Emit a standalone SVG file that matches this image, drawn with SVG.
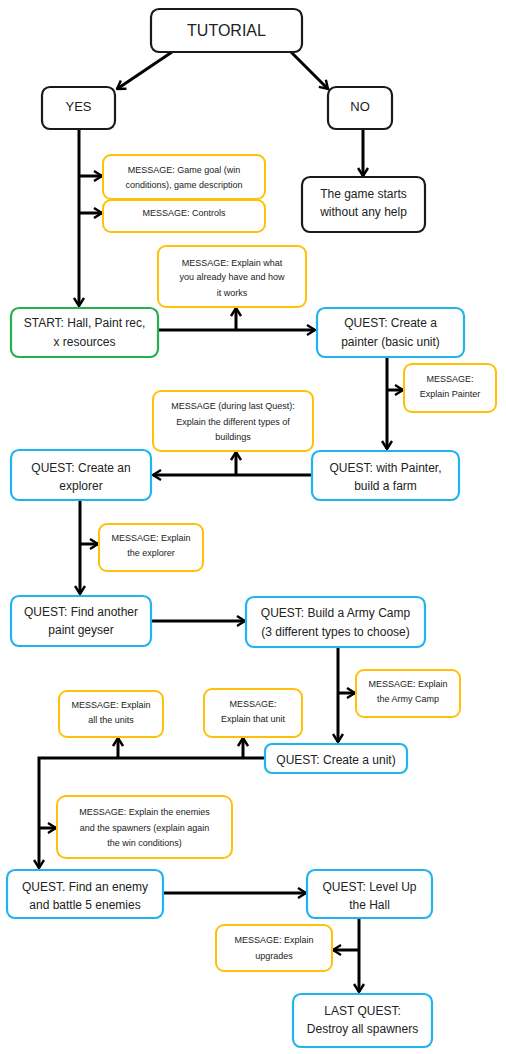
<svg xmlns="http://www.w3.org/2000/svg" width="506" height="1054" viewBox="0 0 506 1054">
<defs>
<marker id="ah" viewBox="0 0 10 12" refX="9" refY="6" markerWidth="10" markerHeight="12" markerUnits="userSpaceOnUse" orient="auto">
<path d="M1,1 L9,6 L1,11" fill="none" stroke="#000" stroke-width="2.4" stroke-linejoin="miter"/>
</marker>
<style>
.b{fill:#fff;stroke:#1a1a1a;stroke-width:2.2}
.q{fill:#fff;stroke:#1fb4ee;stroke-width:2.2}
.s{fill:#fff;stroke:#22b14c;stroke-width:2.2}
.m{fill:#fff;stroke:#ffc107;stroke-width:2}
text{font-family:"Liberation Sans",Arial,sans-serif;fill:#222;text-anchor:middle}
.t12{font-size:12px}
.t9{font-size:9px}
.c line,.c polyline{stroke:#000;stroke-width:3;fill:none}
</style>
</defs>
<g id="connectors" class="c">
<line x1="172" y1="52" x2="117" y2="89" marker-end="url(#ah)"/>
<line x1="291" y1="52" x2="328" y2="89" marker-end="url(#ah)"/>
<line x1="363" y1="129" x2="363" y2="176" marker-end="url(#ah)"/>
<line x1="79" y1="129" x2="79" y2="306" marker-end="url(#ah)"/>
<line x1="79" y1="176" x2="102" y2="176" marker-end="url(#ah)"/>
<line x1="79" y1="213" x2="102" y2="213" marker-end="url(#ah)"/>
<line x1="158" y1="330" x2="315" y2="330" marker-end="url(#ah)"/>
<line x1="236" y1="330" x2="236" y2="308" marker-end="url(#ah)"/>
<line x1="387" y1="357" x2="387" y2="449" marker-end="url(#ah)"/>
<line x1="387" y1="390" x2="403" y2="390" marker-end="url(#ah)"/>
<line x1="312" y1="475" x2="153" y2="475" marker-end="url(#ah)"/>
<line x1="236" y1="475" x2="236" y2="452" marker-end="url(#ah)"/>
<line x1="80" y1="500" x2="80" y2="594" marker-end="url(#ah)"/>
<line x1="80" y1="544" x2="98" y2="544" marker-end="url(#ah)"/>
<line x1="151" y1="621" x2="245" y2="621" marker-end="url(#ah)"/>
<line x1="338" y1="647" x2="338" y2="742" marker-end="url(#ah)"/>
<line x1="338" y1="693" x2="355" y2="693" marker-end="url(#ah)"/>
<polyline points="265,758 39,758 39,868" marker-end="url(#ah)"/>
<line x1="118" y1="758" x2="118" y2="738" marker-end="url(#ah)"/>
<line x1="243" y1="758" x2="243" y2="738" marker-end="url(#ah)"/>
<line x1="39" y1="828" x2="56" y2="828" marker-end="url(#ah)"/>
<line x1="163" y1="893" x2="306" y2="893" marker-end="url(#ah)"/>
<line x1="359" y1="918" x2="359" y2="992" marker-end="url(#ah)"/>
<line x1="359" y1="950" x2="333" y2="950" marker-end="url(#ah)"/>
</g>
<g id="tutorial"><rect class="b" x="151" y="9" width="151" height="43" rx="8"/><text x="226.5" y="36" style="font-size:16px">TUTORIAL</text></g>
<g id="yes"><rect class="b" x="42" y="87" width="73" height="42" rx="8"/><text x="78.5" y="111" style="font-size:13px">YES</text></g>
<g id="no"><rect class="b" x="328" y="87" width="64" height="42" rx="8"/><text x="360" y="111" style="font-size:13px">NO</text></g>
<g id="nohelp"><rect class="b" x="302" y="177" width="123" height="55" rx="8"/><text class="t12" x="363.5" y="198">The game starts</text><text class="t12" x="363.5" y="216">without any help</text></g>
<g id="msg-goal"><rect class="m" x="103" y="155" width="162" height="44" rx="8"/><text class="t9" x="184" y="173">MESSAGE: Game goal (win</text><text class="t9" x="184" y="188">conditions), game description</text></g>
<g id="msg-controls"><rect class="m" x="103" y="200" width="162" height="32" rx="8"/><text class="t9" x="184" y="216">MESSAGE: Controls</text></g>
<g id="msg-have"><rect class="m" x="158" y="246" width="148" height="61" rx="8"/><text class="t9" x="232" y="266">MESSAGE: Explain what</text><text class="t9" x="232" y="280">you already have and how</text><text class="t9" x="232" y="296">it works</text></g>
<g id="start"><rect class="s" x="11" y="308" width="147" height="49" rx="8"/><text class="t12" x="84.5" y="327">START: Hall, Paint rec,</text><text class="t12" x="84.5" y="346">x resources</text></g>
<g id="q-painter"><rect class="q" x="317" y="308" width="147" height="49" rx="8"/><text class="t12" x="390.5" y="327">QUEST: Create a</text><text class="t12" x="390.5" y="346">painter (basic unit)</text></g>
<g id="msg-painter"><rect class="m" x="404" y="364" width="92" height="48" rx="8"/><text class="t9" x="450" y="382">MESSAGE:</text><text class="t9" x="450" y="397">Explain Painter</text></g>
<g id="msg-buildings"><rect class="m" x="153" y="391" width="160" height="60" rx="8"/><text class="t9" x="233" y="409">MESSAGE (during last Quest):</text><text class="t9" x="233" y="425">Explain the different types of</text><text class="t9" x="233" y="440">buildings</text></g>
<g id="q-farm"><rect class="q" x="312" y="451" width="147" height="49" rx="8"/><text class="t12" x="385.5" y="472">QUEST: with Painter,</text><text class="t12" x="385.5" y="490">build a farm</text></g>
<g id="q-explorer"><rect class="q" x="11" y="450" width="140" height="50" rx="8"/><text class="t12" x="81" y="472">QUEST: Create an</text><text class="t12" x="81" y="490">explorer</text></g>
<g id="msg-explorer"><rect class="m" x="99" y="524" width="104" height="47" rx="8"/><text class="t9" x="151" y="541">MESSAGE: Explain</text><text class="t9" x="151" y="556">the explorer</text></g>
<g id="q-geyser"><rect class="q" x="11" y="596" width="140" height="50" rx="8"/><text class="t12" x="81" y="616">QUEST: Find another</text><text class="t12" x="81" y="634">paint geyser</text></g>
<g id="q-army"><rect class="q" x="246" y="597" width="179" height="50" rx="8"/><text class="t12" x="335.5" y="617">QUEST: Build a Army Camp</text><text class="t12" x="335.5" y="636">(3 different types to choose)</text></g>
<g id="msg-army"><rect class="m" x="356" y="670" width="104" height="47" rx="8"/><text class="t9" x="408" y="687">MESSAGE: Explain</text><text class="t9" x="408" y="702">the Army Camp</text></g>
<g id="msg-allunits"><rect class="m" x="59" y="691" width="104" height="46" rx="8"/><text class="t9" x="111" y="708">MESSAGE: Explain</text><text class="t9" x="111" y="723">all the units</text></g>
<g id="msg-thatunit"><rect class="m" x="204" y="689" width="98" height="48" rx="8"/><text class="t9" x="253" y="707">MESSAGE:</text><text class="t9" x="253" y="722">Explain that unit</text></g>
<g id="q-unit"><rect class="q" x="265" y="744" width="142" height="29" rx="7"/><text class="t12" x="336" y="764">QUEST: Create a unit)</text></g>
<g id="msg-enemies"><rect class="m" x="57" y="796" width="175" height="62" rx="9"/><text class="t9" x="144.5" y="815">MESSAGE: Explain the enemies</text><text class="t9" x="144.5" y="831">and the spawners (explain again</text><text class="t9" x="144.5" y="846">the win conditions)</text></g>
<g id="q-enemy"><rect class="q" x="7" y="870" width="156" height="48" rx="8"/><text class="t12" x="85" y="891">QUEST. Find an enemy</text><text class="t12" x="85" y="909">and battle 5 enemies</text></g>
<g id="q-level"><rect class="q" x="307" y="870" width="125" height="48" rx="8"/><text class="t12" x="369.5" y="891">QUEST: Level Up</text><text class="t12" x="369.5" y="909">the Hall</text></g>
<g id="msg-upgrades"><rect class="m" x="216" y="925" width="116" height="46" rx="8"/><text class="t9" x="274" y="943">MESSAGE: Explain</text><text class="t9" x="274" y="959">upgrades</text></g>
<g id="q-last"><rect class="q" x="293" y="994" width="139" height="53" rx="8"/><text class="t12" x="362.5" y="1015">LAST QUEST:</text><text class="t12" x="362.5" y="1033">Destroy all spawners</text></g>
</svg>
